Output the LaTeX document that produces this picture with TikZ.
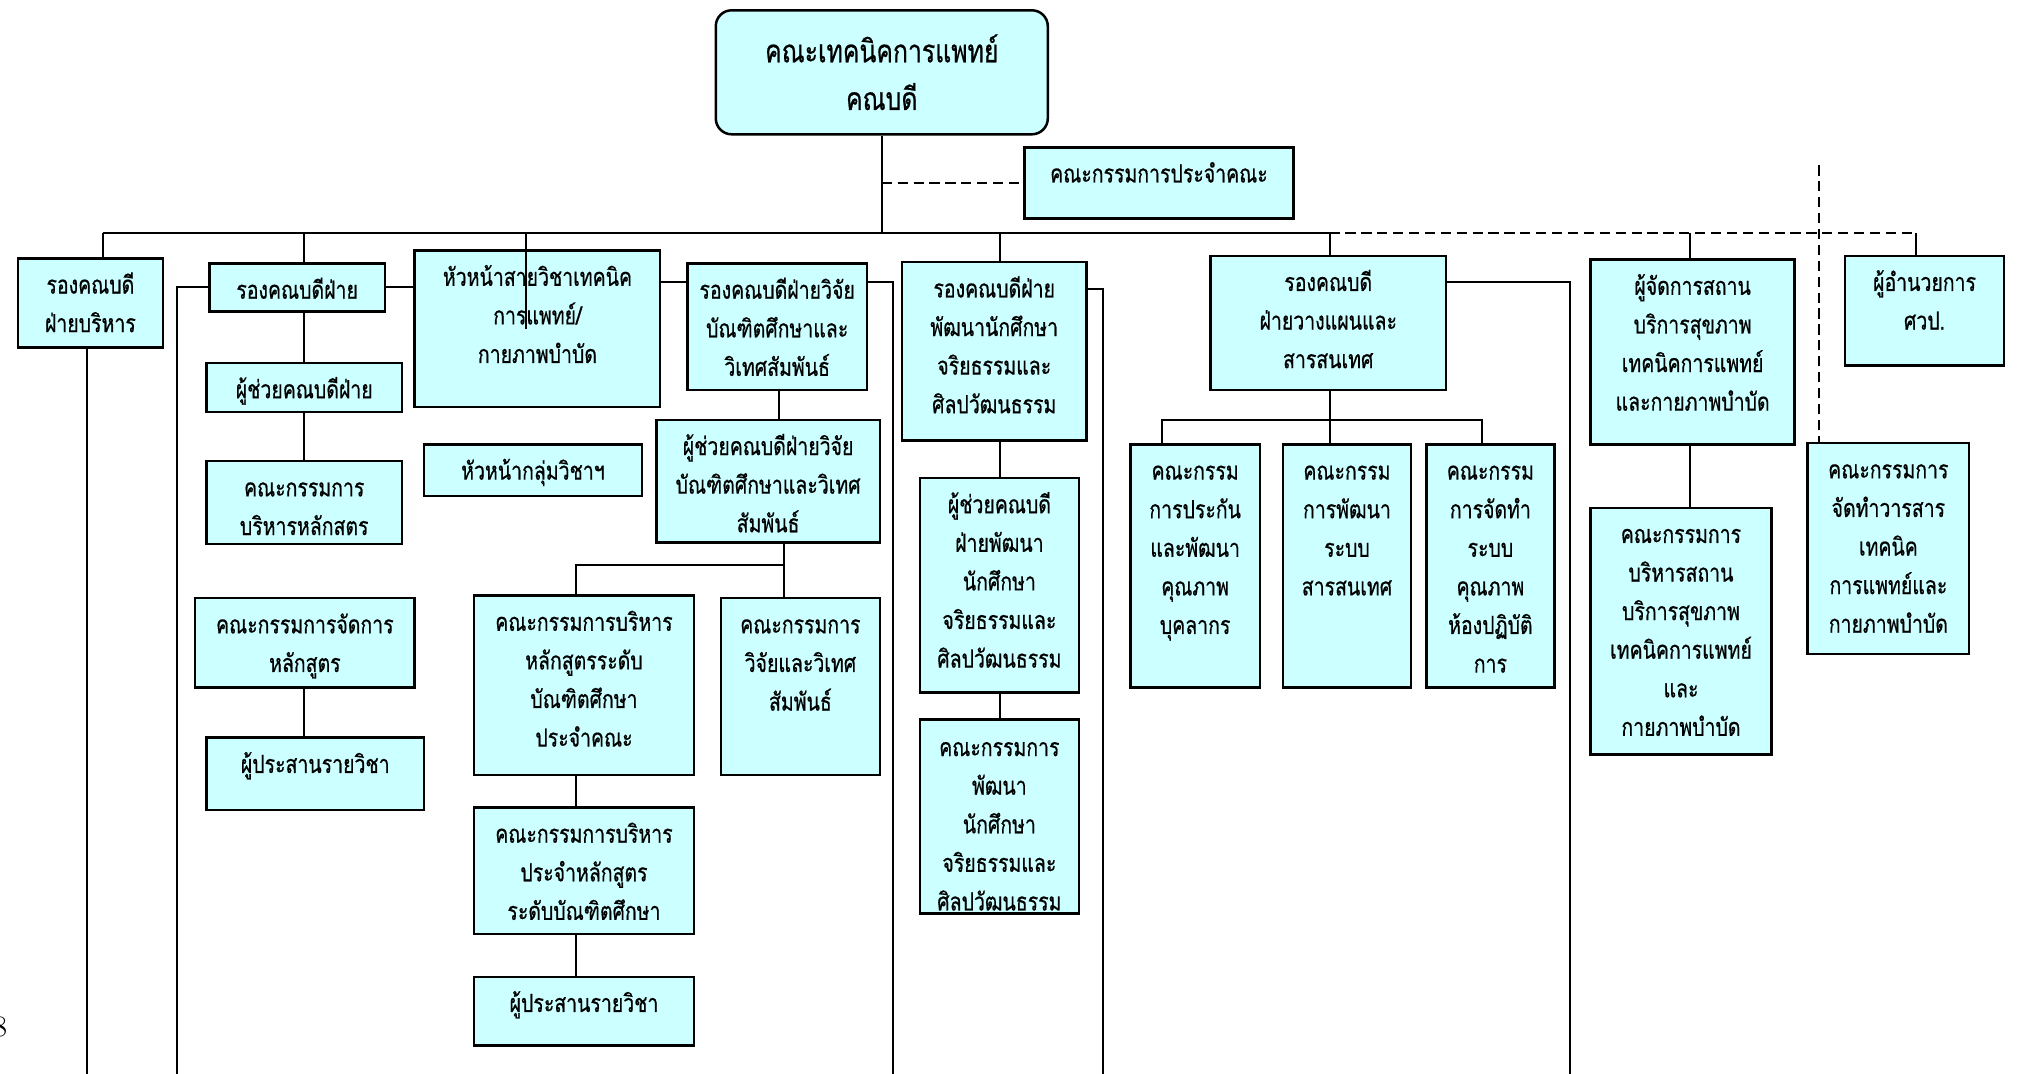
\documentclass[tikz,border=0pt]{standalone}
\usepackage{fontspec}
\newfontfamily\thaifont[Script=Thai,FakeStretch=0.78,FakeBold=0.6]{Loma}
\definecolor{orgcyan}{HTML}{CCFFFF}
\newlength\orgu
\setlength\orgu{0.02cm}
\newcommand\orgfont{\thaifont\fontsize{11}{17}\selectfont}
\newcommand\orgtxt[3]{\parbox[c][#2\orgu][t]{#1\orgu}{\centering\rule{0pt}{15.5pt}#3\par}}

\begin{document}
\begin{tikzpicture}[x=0.02cm,y=-0.02cm,line width=0.9pt,
  org/.style={draw,fill=orgcyan,line width=1.1pt,inner sep=0pt,anchor=north west,font=\orgfont},
  root/.style={draw,fill=orgcyan,line width=1.1pt,rounded corners=7pt,anchor=north west,align=center,
    minimum width=5.14cm,minimum height=1.92cm,font=\thaifont\fontsize{14}{21}\selectfont},
  dashline/.style={dash pattern=on 4.5pt off 2.5pt}]
\useasboundingbox (0,0) rectangle (1568,831);

\node[root] (dean) at (553,7) {คณะเทคนิคการแพทย์\\คณบดี};
\node[org] (board) at (792,113) {\orgtxt{208}{55}{คณะกรรมการประจำคณะ}};

\node[org] (vpadm) at (13,199) {\orgtxt{112}{69}{รองคณบดี\\ฝ่ายบริหาร}};
\node[org] (vpx)   at (161,203) {\orgtxt{136}{37}{รองคณบดีฝ่าย}};
\node[org] (asx)   at (159,280) {\orgtxt{151}{38}{ผู้ช่วยคณบดีฝ่าย}};
\node[org] (cmcur) at (159,356) {\orgtxt{151}{64}{คณะกรรมการ\\บริหารหลักสตร}};
\node[org] (cmmgt) at (150,462) {\orgtxt{170}{69}{คณะกรรมการจัดการ\\หลักสูตร}};
\node[org] (crdA)  at (159,570) {\orgtxt{168}{56}{ผู้ประสานรายวิชา}};

\node[org] (hdiv)  at (320,193) {\orgtxt{190}{121}{หัวหน้าสายวิชาเทคนิค\\การแพทย์/\\กายภาพบำบัด}};
\node[org] (hgrp)  at (327,343) {\orgtxt{169}{40}{หัวหน้ากลุ่มวิชาฯ}};

\node[org] (vpres)    at (531,203) {\orgtxt{139}{98}{รองคณบดีฝ่ายวิจัย\\บัณฑิตศึกษาและ\\วิเทศสัมพันธ์}};
\node[org] (asres)    at (507,324) {\orgtxt{173}{95}{ผู้ช่วยคณบดีฝ่ายวิจัย\\บัณฑิตศึกษาและวิเทศ\\สัมพันธ์}};
\node[org] (cmgrad)   at (366,460) {\orgtxt{170}{139}{คณะกรรมการบริหาร\\หลักสูตรระดับ\\บัณฑิตศึกษา\\ประจำคณะ}};
\node[org] (cmresint) at (557,462) {\orgtxt{123}{137}{คณะกรรมการ\\วิจัยและวิเทศ\\สัมพันธ์}};
\node[org] (cmprog)   at (366,624) {\orgtxt{170}{98}{คณะกรรมการบริหาร\\ประจำหลักสูตร\\ระดับบัณฑิตศึกษา}};
\node[org] (crdB)     at (366,755) {\orgtxt{170}{53}{ผู้ประสานรายวิชา}};

\node[org] (vpstu) at (697,202) {\orgtxt{143}{138}{รองคณบดีฝ่าย\\พัฒนานักศึกษา\\จริยธรรมและ\\ศิลปวัฒนธรรม}};
\node[org] (asstu) at (711,369) {\orgtxt{123}{166}{ผู้ช่วยคณบดี\\ฝ่ายพัฒนา\\นักศึกษา\\จริยธรรมและ\\ศิลปวัฒนธรรม}};
\node[org,minimum width=2.46cm,minimum height=3cm,
  path picture={\node[anchor=north,inner sep=0pt] at (path picture bounding box.north)
    {\orgtxt{123}{150}{คณะกรรมการ\\พัฒนา\\นักศึกษา\\จริยธรรมและ\\ศิลปวัฒนธรรม}};}]
  (cmstu) at (711,556) {};

\node[org] (vpplan) at (936,197)  {\orgtxt{182}{104}{รองคณบดี\\ฝ่ายวางแผนและ\\สารสนเทศ}};
\node[org] (cmqa)   at (874,343)  {\orgtxt{100}{188}{คณะกรรม\\การประกัน\\และพัฒนา\\คุณภาพ\\บุคลากร}};
\node[org] (cmit)   at (992,343)  {\orgtxt{99}{188}{คณะกรรม\\การพัฒนา\\ระบบ\\สารสนเทศ}};
\node[org] (cmlab)  at (1103,343) {\orgtxt{99}{188}{คณะกรรม\\การจัดทำ\\ระบบ\\คุณภาพ\\ห้องปฏิบัติ\\การ}};

\node[org] (mgrhc) at (1230,200) {\orgtxt{158}{143}{ผู้จัดการสถาน\\บริการสุขภาพ\\เทคนิคการแพทย์\\และกายภาพบำบัด}};
\node[org] (cmhc)  at (1230,392) {\orgtxt{140}{191}{คณะกรรมการ\\บริหารสถาน\\บริการสุขภาพ\\เทคนิคการแพทย์\\และ\\กายภาพบำบัด}};
\node[org] (dirc)  at (1427,197) {\orgtxt{123}{85}{ผู้อำนวยการ\\ศวป.}};
\node[org] (cmjnl) at (1398,342) {\orgtxt{125}{163}{คณะกรรมการ\\จัดทำวารสาร\\เทคนิค\\การแพทย์และ\\กายภาพบำบัด}};

\node[font=\fontsize{13}{13}\selectfont,inner sep=0pt] (pgno) at (0,795) {8};

% bus
\coordinate (busL) at (80,180);
\coordinate (busM) at (1029,180);
\coordinate (busR) at (1483,180);
\coordinate (dX) at (235,180);
\coordinate (dDiv) at (407,180);
\coordinate (dStu) at (774,180);
\coordinate (dHc) at (1308,180);
\coordinate (yHd) at (0,218);
\coordinate (yStu) at (0,224);

\draw (dean) -- (dean |- busL);
\draw[dashline] (dean |- board) -- (board);
\draw (busL) -- (busM);
\draw[dashline] (busM) -- (busR);

\draw (busL) -- (busL |- vpadm.north);
\draw (dX) -- (dX |- vpx.north);
\draw (dDiv) -- (dDiv |- hdiv.center);
\draw (dStu) -- (dStu |- vpstu.north);
\draw (busM) -- (busM |- vpplan.north);
\draw (dHc) -- (dHc |- mgrhc.north);
\draw (busR) -- (busR |- dirc.north);

% long lines to the page bottom
\coordinate (lnAdm) at (67,831);
\coordinate (lnX) at (137,831);
\coordinate (lnRes) at (691,831);
\coordinate (lnStu) at (854,831);
\coordinate (lnPlan) at (1215,831);
\draw (lnAdm |- vpadm.south) -- (lnAdm);
\draw (vpx.west) -| (lnX);
\draw (vpx) -- (vpx -| hdiv.west);
\draw (hdiv.east |- yHd) -- (vpres.west |- yHd);
\draw (vpres.east |- yHd) -| (lnRes);
\draw (vpstu.east |- yStu) -| (lnStu);
\draw (vpplan.east |- yHd) -| (lnPlan);

\draw (dX |- vpx.south) -- (dX |- asx.north);
\draw (dX |- asx.south) -- (dX |- cmcur.north);
\draw (dX |- cmmgt.south) -- (dX |- crdA.north);

\coordinate (xRes) at (603,0);
\coordinate (xQ) at (607,0);
\coordinate (brQ) at (446,437);
\draw (xRes |- vpres.south) -- (xRes |- asres.north);
\draw (xQ |- asres.south) -- (xQ |- cmresint.north);
\draw (brQ -| xQ) -- (brQ) -- (brQ |- cmgrad.north);
\draw (brQ |- cmgrad.south) -- (brQ |- cmprog.north);
\draw (brQ |- cmprog.south) -- (brQ |- crdB.north);

\draw (dStu |- vpstu.south) -- (dStu |- asstu.north);
\draw (dStu |- asstu.south) -- (dStu |- cmstu.north);

\coordinate (brPlan) at (899,325);
\coordinate (brPlanR) at (1147,325);
\draw (busM |- vpplan.south) -- (busM |- cmit.north);
\draw (brPlan |- cmqa.north) -- (brPlan) -- (brPlanR) -- (brPlanR |- cmlab.north);

\draw (dHc |- mgrhc.south) -- (dHc |- cmhc.north);

\coordinate (jnlTop) at (1408,128);
\draw[dashline] (jnlTop) -- (jnlTop |- cmjnl.north);
\end{tikzpicture}
\end{document}
